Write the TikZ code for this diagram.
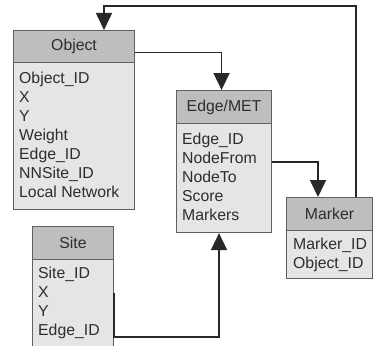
\documentclass[tikz,border=0pt]{standalone}
\usepackage{fontspec}
\setmainfont{Liberation Sans}
\usetikzlibrary{arrows.meta}
\definecolor{hdrfill}{RGB}{190,190,190}
\definecolor{bodyfill}{RGB}{229,229,229}
\definecolor{edgecol}{RGB}{95,95,95}
\definecolor{txtcol}{RGB}{45,45,45}
\definecolor{linecol}{RGB}{40,40,40}
\tikzset{
  hdr/.style={draw=edgecol, line width=1.1pt, fill=hdrfill, anchor=north west, inner sep=0pt,
    text=txtcol, font=\fontsize{15.8}{19}\selectfont},
  bodybox/.style={draw=edgecol, line width=1.1pt, fill=bodyfill, anchor=north west, inner sep=0pt},
  fields/.style={anchor=north west, inner sep=0pt, align=left, text=txtcol,
    font=\fontsize{15.8}{19}\selectfont},
  conn/.style={draw=linecol, line width=1.6pt, -{Triangle[length=17pt,width=16pt]}},
}
\begin{document}
\begin{tikzpicture}[x=1pt,y=-1pt]
\useasboundingbox (0,0) rectangle (374,345);
\clip (0,0) rectangle (374,345);
\fill[white] (0,0) rectangle (374,345);
% Object
\node[bodybox, minimum width=121pt, minimum height=147pt] (objB) at (13,62) {};
\node[hdr, minimum width=121pt, minimum height=32pt] (objH) at (13,30) {Object};
\node[fields] (objF) at (19,72.3) {Object\_ID\\X\\Y\\Weight\\Edge\_ID\\NNSite\_ID\\Local Network};
% Edge/MET
\node[bodybox, minimum width=95pt, minimum height=109pt] (edB) at (176,123) {};
\node[hdr, minimum width=95pt, minimum height=33pt] (edH) at (176,90) {Edge/MET};
\node[fields] (edF) at (182,133.3) {Edge\_ID\\NodeFrom\\NodeTo\\Score\\Markers};
% Marker
\node[bodybox, minimum width=86pt, minimum height=48pt] (mkB) at (286,230) {};
\node[hdr, minimum width=86pt, minimum height=33pt] (mkH) at (286,197) {Marker};
\node[fields] (mkF) at (293,238.3) {Marker\_ID\\Object\_ID};
% Site
\node[bodybox, minimum width=81pt, minimum height=100pt] (siB) at (32,259) {};
\node[hdr, minimum width=81pt, minimum height=33pt] (siH) at (32,226) {Site};
\node[fields] (siF) at (38,267.3) {Site\_ID\\X\\Y\\Edge\_ID};
% connectors
\draw[conn] ([xshift=-17pt]mkH.north east) -- ++(0,-191) -| ([xshift=91pt]objH.north west);
\draw[conn] ([yshift=-6pt]objH.east) -| ([xshift=-2.5pt]edH.north);
\draw[conn] ([yshift=-39pt]edB.north east) -| ([xshift=32pt]mkH.north west);
\draw[conn] ([yshift=-34pt]siB.north east) -- ++(0,44) -| ([xshift=43pt]edB.south west);
\end{tikzpicture}
\end{document}
